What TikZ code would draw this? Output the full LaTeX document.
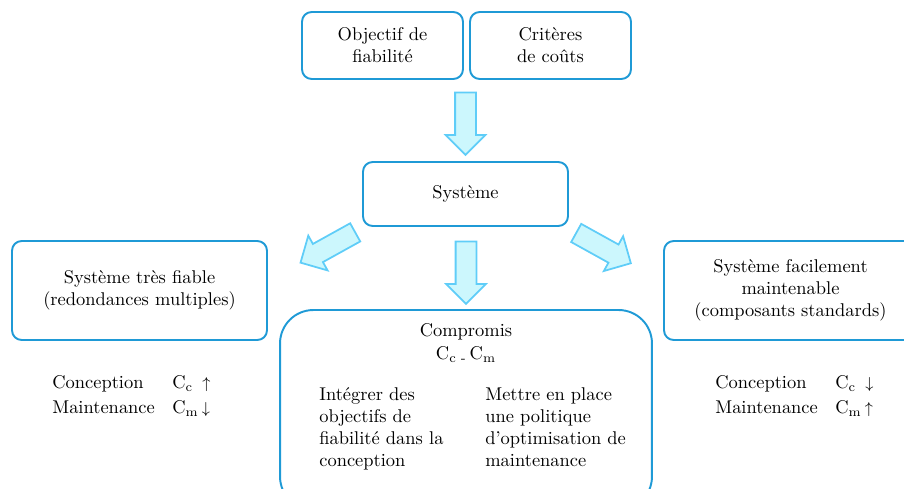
\documentclass[tikz,border=0pt]{standalone}
\usepackage{amsmath}
\usepackage{xcolor}
\usepackage{tikz}
\usetikzlibrary{shapes.arrows}
\definecolor{boxline}{RGB}{31,154,214}
\definecolor{arrowline}{RGB}{95,205,248}
\definecolor{arrowfill}{RGB}{204,247,253}
\tikzset{
  box/.style={draw=boxline,line width=1.1pt,rounded corners=5.5pt,align=center,inner sep=0pt},
  bigarrow/.style={single arrow,draw=arrowline,fill=arrowfill,line width=1pt,inner xsep=0pt,inner ysep=0.19cm,
    minimum width=0.76cm,minimum height=1.25cm,single arrow head extend=0.19cm,single arrow tip angle=90}
}
\newcommand{\costs}[2]{\begin{tabular}{@{}l@{\hspace{10pt}}l@{}}
  Conception & C\textsubscript{c}\enspace{\small$#1$}\\[1.7pt]
  Maintenance & C\textsubscript{m}\,{\small$#2$}
\end{tabular}}

\begin{document}
\begin{tikzpicture}[x=0.02cm,y=-0.02cm,font=\fontsize{10.5}{12.5}\selectfont]
                    \useasboundingbox (0,0) rectangle (904,489);
                    \node[box,minimum width=3.22cm,minimum height=1.34cm] (obj) at (382.5,45.5) {Objectif de\\fiabilité};
                    \node[box,minimum width=3.22cm,minimum height=1.34cm] (couts) at (550.5,45.5) {Critères\\de coûts};
                    \node[box,minimum width=4.1cm,minimum height=1.28cm] (sys) at (465.5,194) {Système};
                    \node[box,minimum width=5.1cm,minimum height=1.98cm] (fiable) at (139.5,290.5) {Système très fiable\\(redondances multiples)};
                    \node[box,minimum width=5.06cm,minimum height=1.98cm] (maint) at (790.5,290.5) {Système facilement\\maintenable\\(composants standards)};
                    \node[box,rounded corners=19pt,minimum width=7.44cm,minimum height=4cm] (comp) at (466,410) {};
                    \node[align=center] (comptitle) at (466,343) {Compromis\\[1pt]C\textsubscript{c -}\,C\textsubscript{m}};
                    \node[align=left,anchor=north west,inner sep=0pt] (integrer) at (319,387) {Intégrer des\\objectifs de\\fiabilité dans la\\conception};
                    \node[align=left,anchor=north west,inner sep=0pt] (mettre) at (485,387) {Mettre en place\\une politique\\d’optimisation de\\maintenance};
                    \node[anchor=north west,inner sep=0pt] (coutsfiable) at (52,373) {\costs{\uparrow}{\downarrow}};
                    \node[anchor=north west,inner sep=0pt] (coutsmaint) at (715,373) {\costs{\downarrow}{\uparrow}};
                    \node[bigarrow,rotate=-90] (arrtop) at (465.5,118.5) {};
                    \node[bigarrow,rotate=-90] (arrmid) at (466,267.5) {};
                    \node[bigarrow,rotate=209] (arrleft) at (332.4,245) {};
                    \node[bigarrow,rotate=-29] (arrright) at (599,245.6) {};
                \end{tikzpicture}
\end{document}
